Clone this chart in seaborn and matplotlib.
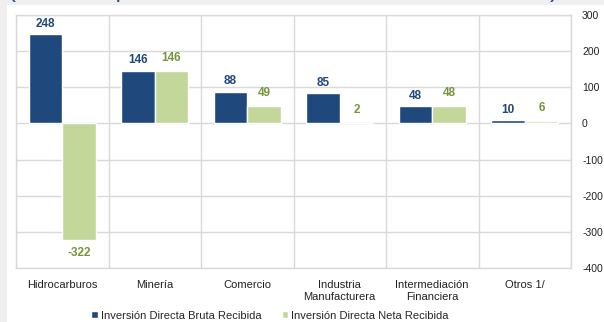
import numpy as np
import pandas as pd
import matplotlib
matplotlib.use("Agg")
import matplotlib.pyplot as plt
import seaborn as sns
from matplotlib.patches import Rectangle

categorias = ["Hidrocarburos", "Minería", "Comercio", "Industria\nManufacturera",
              "Intermediación\nFinanciera", "Otros 1/"]
bruta = [248, 146, 88, 85, 48, 10]
neta = [-322, 146, 49, 2, 48, 6]
series = ["Inversión Directa Bruta Recibida", "Inversión Directa Neta Recibida"]
yticks = [300, 200, 100, 0, -100, -200, -300, -400]
titulo = "(Enero-Septiembre de 2017, en millones de dólares)"

col_blue = "#1F497D"
col_green = "#C4D79B"
lab_blue = "#1F497D"
lab_green = "#77933C"

sns.set_style("white")
plt.rcParams["font.family"] = ["Liberation Sans", "DejaVu Sans"]

df = pd.DataFrame({
    "cat": categorias * 2,
    "valor": bruta + neta,
    "serie": [series[0]] * len(categorias) + [series[1]] * len(categorias),
})

fig = plt.figure(figsize=(6.04, 3.22), dpi=100)
fig.patch.set_facecolor("#EFEFEF")
fig.patches.append(Rectangle((7 / 604, 0), 1, 1 - 5 / 322, transform=fig.transFigure,
                             facecolor="white", edgecolor="none", zorder=-10))

fig.text(8 / 604, 1 + 3 / 322, titulo, fontsize=17, color="#1F497D",
         ha="left", va="baseline")

ax = fig.add_axes([16 / 604, 1 - 268 / 322, (571 - 16) / 604, (268 - 15) / 322])
sns.barplot(data=df, x="cat", y="valor", hue="serie", order=categorias,
            hue_order=series, palette=[col_blue, col_green], width=0.72,
            saturation=1, ax=ax, legend=True)

ax.set_ylim(-400, 300)
ax.set_yticks(yticks)
ax.set_yticklabels([str(v) for v in yticks])
ax.yaxis.tick_right()
ax.tick_params(axis="y", length=0, pad=8, labelsize=7.5, labelcolor="#222222")
ax.tick_params(axis="x", length=0, pad=9, labelsize=8, labelcolor="#222222")
ax.set_xlabel("")
ax.set_ylabel("")

ax.set_xticks(np.arange(-0.5, len(categorias)), minor=True)
ax.tick_params(axis="x", which="minor", length=0)
ax.grid(axis="y", which="major", color="#D9D9D9", linewidth=1)
ax.grid(axis="x", which="minor", color="#D9D9D9", linewidth=1)
ax.grid(axis="x", which="major", visible=False)
ax.set_axisbelow(True)
for s in ax.spines.values():
    s.set_color("#D9D9D9")
    s.set_linewidth(1)
ax.set_xlim(-0.5, len(categorias) - 0.5)

conts = ax.containers
ax.bar_label(conts[0], labels=[str(v) for v in bruta], padding=3, fontsize=8.5,
             fontweight="bold", color=lab_blue)
ax.bar_label(conts[1], labels=[str(v) for v in neta], padding=5, fontsize=8.5,
             fontweight="bold", color=lab_green)

handles, labels = ax.get_legend_handles_labels()
ax.get_legend().remove()
fig.legend(handles, labels, loc="center", bbox_to_anchor=(0.447, 0.02), ncol=2,
           frameon=False, fontsize=8, handlelength=0.55, handleheight=0.55,
           handletextpad=0.3, columnspacing=1.8)

fig.savefig("out.png", dpi=100, facecolor=fig.get_facecolor())
